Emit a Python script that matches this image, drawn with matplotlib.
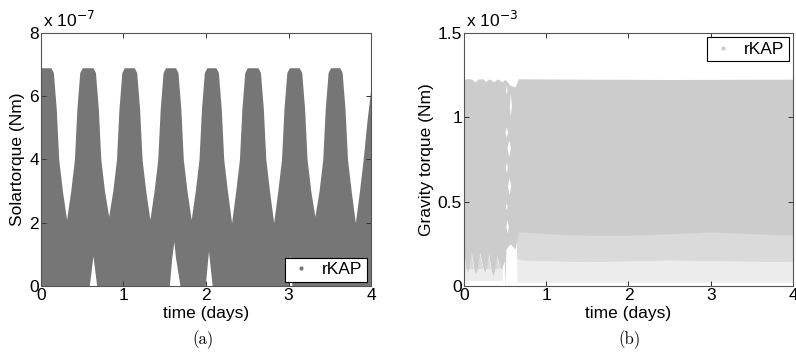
import numpy as np
import matplotlib
matplotlib.use('Agg')
import matplotlib.pyplot as plt
from matplotlib.lines import Line2D
from matplotlib.patches import Polygon

plt.rcParams['font.family'] = ['Liberation Sans', 'DejaVu Sans']

# (a) solar torque, units of 1e-7 Nm: upper envelope of the point cloud
t_sol_top = [0.00,
             0.12, 0.15, 0.185, 0.215, 0.26, 0.31, 0.36, 0.405, 0.435, 0.47, 0.50,
             0.63, 0.66, 0.695, 0.725, 0.77, 0.82, 0.87, 0.915, 0.945, 0.98, 1.01,
             1.13, 1.16, 1.195, 1.225, 1.27, 1.32, 1.37, 1.415, 1.445, 1.48, 1.51,
             1.63, 1.66, 1.695, 1.725, 1.77, 1.82, 1.87, 1.915, 1.945, 1.98, 2.01,
             2.12, 2.15, 2.185, 2.215, 2.26, 2.31, 2.36, 2.405, 2.435, 2.47, 2.50,
             2.63, 2.66, 2.695, 2.725, 2.77, 2.82, 2.87, 2.915, 2.945, 2.98, 3.01,
             3.13, 3.16, 3.195, 3.225, 3.27, 3.32, 3.37, 3.415, 3.445, 3.48, 3.51,
             3.62, 3.65, 3.685, 3.715, 3.76, 3.81, 3.86, 3.905, 3.95, 4.00]
sol_top = [6.9,
           6.9, 6.75, 5.6, 4.0, 3.0, 2.1, 3.0, 4.0, 5.6, 6.75, 6.9,
           6.9, 6.75, 5.6, 4.0, 3.0, 2.2, 3.0, 4.0, 5.6, 6.75, 6.9,
           6.9, 6.75, 5.6, 4.0, 3.0, 2.1, 3.0, 4.0, 5.6, 6.75, 6.9,
           6.9, 6.75, 5.6, 4.0, 3.0, 2.1, 3.0, 4.0, 5.6, 6.75, 6.9,
           6.9, 6.75, 5.6, 4.0, 3.0, 2.0, 3.0, 4.0, 5.6, 6.75, 6.9,
           6.9, 6.75, 5.6, 4.0, 3.0, 2.0, 3.0, 4.0, 5.6, 6.75, 6.9,
           6.9, 6.75, 5.6, 4.0, 3.0, 2.2, 3.0, 4.0, 5.6, 6.75, 6.9,
           6.9, 6.75, 5.6, 4.0, 3.0, 2.0, 3.0, 4.0, 5.2, 6.3]
# lower edge (gaps near zero)
t_sol_low = [0.00, 0.585, 0.63, 0.675, 1.555, 1.585, 1.61, 1.63, 1.685,
             1.99, 2.03, 2.075, 3.00, 3.02, 3.04, 4.00]
sol_low = [0.0, 0.0, 0.95, 0.0, 0.0, 0.9, 1.4, 0.9, 0.0,
           0.0, 1.1, 0.0, 0.0, 1.0, 0.0, 0.0]

# (b) gravity torque, units of 1e-3 Nm
t_grav_top = [0.00, 0.05, 0.10, 0.13, 0.18, 0.23, 0.26, 0.31, 0.36, 0.41,
              0.46, 0.50, 0.56, 0.62, 0.66, 1.5, 2.5, 4.00]
grav_top = [1.225, 1.23, 1.225, 1.21, 1.228, 1.228, 1.212, 1.228, 1.21, 1.228,
            1.21, 1.225, 1.19, 1.18, 1.228, 1.226, 1.224, 1.226]
# lower edge of the solid part
t_grav_dense = [0.00, 0.02, 0.04, 0.06, 0.09, 0.12, 0.14, 0.16, 0.19, 0.23,
                0.25, 0.27, 0.30, 0.33, 0.35, 0.37, 0.40, 0.43, 0.45, 0.47,
                0.49, 0.50, 0.51, 0.56, 0.62, 0.66, 0.70, 1.0, 1.5, 2.0,
                2.5, 3.0, 3.5, 4.0]
grav_dense = [0.20, 0.11, 0.08, 0.11, 0.20, 0.10, 0.07, 0.10, 0.20, 0.11,
              0.08, 0.11, 0.19, 0.09, 0.06, 0.09, 0.18, 0.12, 0.10, 0.12,
              0.15, 0.0, 0.22, 0.25, 0.22, 0.32, 0.32, 0.31, 0.30, 0.30,
              0.31, 0.32, 0.31, 0.30]
# mid-density and sparse dot bands below it
t_grav_mid = [0.00, 0.47, 0.48, 0.64, 0.65, 0.70, 1.5, 2.5, 4.0]
grav_mid = [0.10, 0.10, 0.25, 0.25, 0.16, 0.15, 0.14, 0.15, 0.14]
t_grav_sparse = [0.00, 0.47, 0.48, 0.64, 0.65, 4.0]
grav_sparse = [0.03, 0.03, 0.25, 0.25, 0.02, 0.02]
# white holes inside the column near t = 0.5 day
hole_t = [0.52, 0.57, 0.52, 0.55, 0.52, 0.555, 0.52, 0.53]
hole_y = [1.16, 1.07, 0.91, 0.815, 0.70, 0.59, 0.47, 0.35]
hole_h = [0.03, 0.07, 0.03, 0.05, 0.03, 0.05, 0.02, 0.04]
hole_w = [0.008, 0.012, 0.015, 0.02, 0.015, 0.02, 0.01, 0.015]

c_sol = '#767676'
c_grav = '#cccccc'
fs = 12.5

fig = plt.figure(figsize=(7.96, 3.62), dpi=100)
ax1 = fig.add_axes([0.0515, 0.21, 0.4146, 0.699])
ax2 = fig.add_axes([0.5829, 0.21, 0.4133, 0.699])

# panel a
tt = np.linspace(0, 4, 4001)
up = np.interp(tt, t_sol_top, sol_top)
lo = np.interp(tt, t_sol_low, sol_low)
ax1.fill_between(tt, lo, up, color=c_sol, lw=0)
ax1.set_xlim(0, 4)
ax1.set_ylim(0, 8)
ax1.set_yticks([0, 2, 4, 6, 8])

# panel b
up_b = np.interp(tt, t_grav_top, grav_top)
dense_b = np.interp(tt, t_grav_dense, grav_dense)
mid_b = np.minimum(np.interp(tt, t_grav_mid, grav_mid), dense_b)
sparse_b = np.minimum(np.interp(tt, t_grav_sparse, grav_sparse), mid_b)
ax2.fill_between(tt, sparse_b, mid_b, where=sparse_b < mid_b,
                 color='#ececec', lw=0)
ax2.fill_between(tt, mid_b, dense_b, where=mid_b < dense_b,
                 color='#dadada', lw=0)
ax2.fill_between(tt, dense_b, up_b, color=c_grav, lw=0)
for x0, y0, h, w in zip(hole_t, hole_y, hole_h, hole_w):
    ax2.add_patch(Polygon([(x0 - w, y0), (x0, y0 + h), (x0 + w, y0), (x0, y0 - h)],
                          closed=True, fc='white', ec='none'))
ax2.set_xlim(0, 4)
ax2.set_ylim(0, 1.5)
ax2.set_yticks([0, 0.5, 1, 1.5])
ax2.set_yticklabels(['0', '0.5', '1', '1.5'])

for ax in (ax1, ax2):
    ax.set_xticks([0, 1, 2, 3, 4])
    ax.tick_params(direction='in', length=3.5, width=0.7, top=True, right=True,
                   labelsize=fs, pad=1.5, color='#333333')
    for s in ax.spines.values():
        s.set_linewidth(0.8)
        s.set_color('#555555')
    ax.set_xlabel('time (days)', fontsize=fs)
    ax.xaxis.set_label_coords(0.5, -0.08)

ax1.set_ylabel('Solartorque (Nm)', fontsize=fs)
ax1.yaxis.set_label_coords(-0.048, 0.5)
ax2.set_ylabel('Gravity torque (Nm)', fontsize=fs)
ax2.yaxis.set_label_coords(-0.091, 0.5)

ax1.text(0.005, 1.01, r'x 10$^{-7}$', transform=ax1.transAxes, fontsize=fs,
         va='bottom', ha='left')
ax2.text(0.005, 1.01, r'x 10$^{-3}$', transform=ax2.transAxes, fontsize=fs,
         va='bottom', ha='left')

h1 = Line2D([], [], ls='none', marker='.', ms=4, color=c_sol)
h2 = Line2D([], [], ls='none', marker='.', ms=4, color=c_grav)
for ax, h, loc in ((ax1, h1, 'lower right'), (ax2, h2, 'upper right')):
    leg = ax.legend([h], ['rKAP'], loc=loc, fontsize=fs, fancybox=False,
                    framealpha=1, edgecolor='black', handlelength=1.4,
                    borderaxespad=0.25, borderpad=0.25, handletextpad=0.5)
    leg.get_frame().set_linewidth(0.8)

fig.text(0.255, 0.061, '(a)', family='cmr10', fontsize=12, ha='center', va='center')
fig.text(0.791, 0.061, '(b)', family='cmr10', fontsize=12, ha='center', va='center')

fig.savefig('out.png', dpi=100)
